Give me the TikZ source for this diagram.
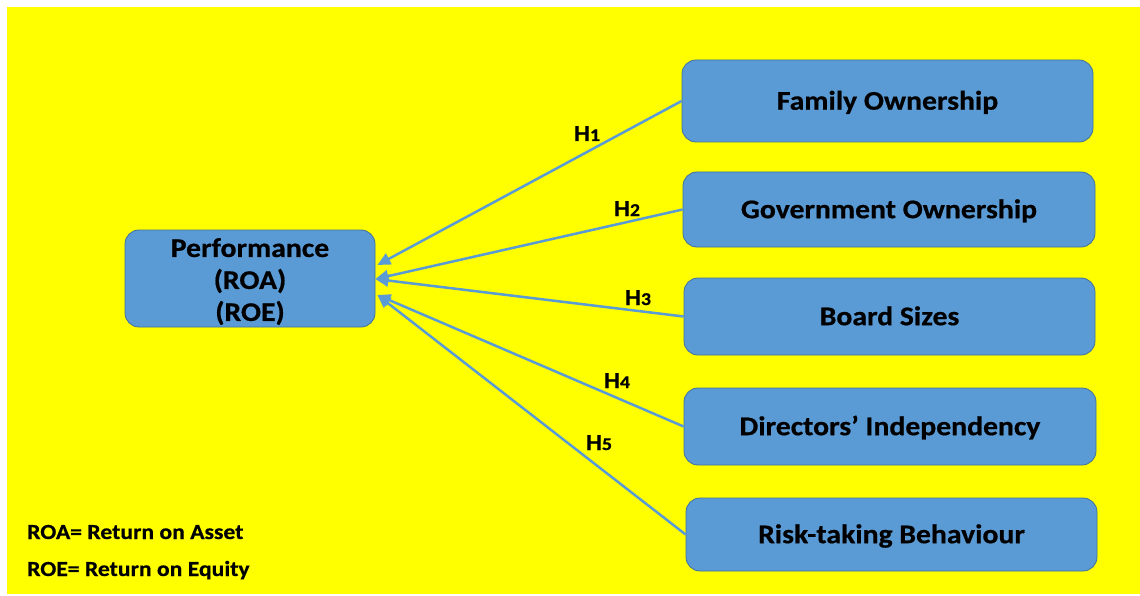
\documentclass[tikz,border=0pt]{standalone}
\usepackage{fontspec}
\setmainfont{Carlito}[FakeStretch=1.1,BoldFeatures={FakeBold=0.6}]
\usetikzlibrary{arrows.meta}
\definecolor{boxblue}{HTML}{5B9BD5}
\definecolor{boxedge}{HTML}{41719C}
\definecolor{bgyellow}{HTML}{FFFF00}
\newcommand{\hlab}[1]{H{\fontsize{18}{18}\selectfont #1}}
\begin{document}
\begin{tikzpicture}[x=1pt,y=1pt,yscale=-1,xscale=1,
	varbox/.style={draw=boxedge,line width=0.8pt,fill=boxblue,rounded corners=14pt,inner sep=0pt,
		font=\fontsize{27}{32}\selectfont\bfseries,align=center,text height=17.4pt,text depth=0pt},
	hyp/.style={draw=boxblue,line width=2.5pt,-{Triangle[length=13pt,width=12pt]}},
	hlabel/.style={inner sep=0pt,anchor=base,font=\fontsize{23}{23}\selectfont\bfseries},
	legend/.style={inner sep=0pt,anchor=base west,font=\fontsize{21.5}{24}\selectfont\bfseries}]
	\path[fill=white] (0,0) rectangle (1140,596); %page
	\path[fill=bgyellow] (7,7) rectangle (1140,594);
	
	%Rounded Rect
	\node[varbox,text height=,text depth=,minimum width=250pt,minimum height=97pt] (perf) at (250,278.5) {\rule{0pt}{25pt}Performance\\(ROA)\\(ROE)};
	%Rounded Rect
	\node[varbox,minimum width=411pt,minimum height=82pt] (family) at (887.5,101) {Family Ownership};
	%Rounded Rect
	\node[varbox,minimum width=412pt,minimum height=75pt] (govt) at (889,209.5) {Government Ownership};
	%Rounded Rect
	\node[varbox,minimum width=411pt,minimum height=77pt] (board) at (889.5,316.5) {Board Sizes};
	%Rounded Rect
	\node[varbox,minimum width=412pt,minimum height=77pt] (indep) at (890,426.5) {Directors’ Independency};
	%Rounded Rect
	\node[varbox,minimum width=411pt,minimum height=73pt] (risk) at (891.5,534.5) {Risk-taking Behaviour};
	
	%Straight Lines
	\draw[hyp] (family.west) -- ([xshift=2pt,yshift=-13.5pt]perf.east);
	%Straight Lines
	\draw[hyp] (govt.west) -- ([yshift=0.5pt]perf.east);
	%Straight Lines
	\draw[hyp] (board.west) -- ([yshift=0.5pt]perf.east);
	%Straight Lines
	\draw[hyp] (indep.west) -- ([xshift=2pt,yshift=16.5pt]perf.east);
	%Straight Lines
	\draw[hyp] (risk.west) -- ([xshift=2pt,yshift=16.5pt]perf.east);
	
	%Text
	\node[hlabel] (h1) at (587,141) {\hlab{1}};
	\node[hlabel] (h2) at (627,216) {\hlab{2}};
	\node[hlabel] (h3) at (638,305) {\hlab{3}};
	\node[hlabel] (h4) at (617,388) {\hlab{4}};
	\node[hlabel] (h5) at (599,450) {\hlab{5}};
	
	%Text
	\node[legend] (roa) at (27,539) {ROA= Return on Asset};
	\node[legend] (roe) at (27,576) {ROE= Return on Equity};
\end{tikzpicture}
\end{document}
